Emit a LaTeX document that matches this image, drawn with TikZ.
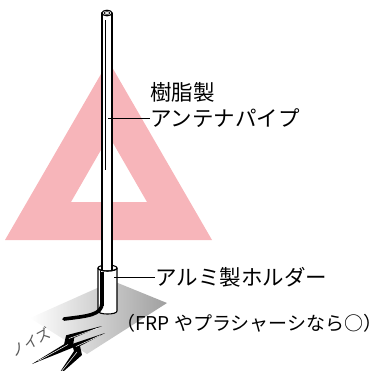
\documentclass[tikz,border=0pt]{standalone}
\usepackage{fontspec}
\setmainfont{Noto Sans CJK JP}
\definecolor{warnpink}{RGB}{247,181,186}

\begin{document}
\begin{tikzpicture}[
    x=1pt, y=-1pt,
    font=\fontsize{21.5}{26}\selectfont,
    callout/.style={anchor=west, inner sep=0pt},
    note/.style={anchor=west, inner sep=0pt, font=\fontsize{19}{23}\selectfont},
    noise/.style={inner sep=0pt, rotate=28, text=gray!70!black, font=\fontsize{14.5}{16}\selectfont},
    leader/.style={line width=0.8pt},
    body/.style={draw=black, fill=white, line width=1.1pt, line join=round},
    cable/.style={line width=3.6pt, line cap=round},
    bolt/.style={fill=black},
    glint/.style={white, line width=0.5pt}
]

    \useasboundingbox (0,0) rectangle (377,370);

    % Warning triangle behind the pipe
    \fill [warnpink, even odd rule]
        (5,240) -- (108.5,61) -- (212,240) -- cycle
        (71,202) -- (109,136) -- (147,202) -- cycle;

    % Ground shadow under the holder
    \shade [left color=white, right color=gray!75]
        (30,318) -- (113,281) -- (167,303) -- (87,354) -- cycle;

    % Noise bolts
    \fill [bolt] (102,326) -- (66.1,335.3) -- (64.1,344.2) -- (32,364)
        -- (72.8,347.6) -- (74.2,337.7) -- cycle;
    \fill [bolt] (105,333) -- (72,344) -- (74,351) -- (56,378)
        -- (82,355) -- (80,346) -- cycle;
    \draw [glint] (98,328) -- (69,338.5);
    \draw [glint] (68,344.5) -- (38,361);
    \draw [glint] (100,335.5) -- (76,346.5);
    \draw [glint] (77,352) -- (61,372);

    % Holder body
    \path [body] (98,268) -- (98,311) .. controls (98,315) and (117,315) .. (117,311) -- (117,268) -- cycle;
    \draw [body] (107.5,268) ellipse [x radius=9.5, y radius=3];

    % Antenna pipe
    \path [body] (102,270) -- (102,13) -- (112,13) -- (112,270);
    \draw [body] (107,13) ellipse [x radius=5, y radius=2.8];
    \draw [line width=0.6pt] (107,13) ellipse [x radius=2.8, y radius=1.4];
    \draw [line width=0.5pt] (105.5,20) -- (105.5,170);

    % Front rim of the holder
    \draw [line width=1.1pt] (98,268) .. controls (98,272) and (117,272) .. (117,268);

    % Slot down the holder side, cable running up it
    \draw [line width=0.6pt] (100.5,271) -- (100.5,309);
    \draw [line width=0.6pt] (103.5,272) -- (103.5,306);
    \draw [cable] (64,319) .. controls (88,316) and (102,315) .. (102,303) -- (102,292);
    \draw [line width=1.2pt] (102,292) -- (102,272);

    % Labels
    \node (resin) [callout] at (150,92) {樹脂製};
    \node (pipe_name) [callout] at (150,118) {アンテナパイプ};
    \node (holder_name) [callout] at (155,277) {アルミ製ホルダー};
    \node (frp_note) [note] at (116,323) {（FRP やプラシャーシなら○）\kern-0.45em};
    \node (noise_tag) [noise] at (31,342) {ノイズ};

    % Leader lines
    \coordinate (pipe_tap) at (108,118);
    \coordinate (holder_tap) at (114,277);
    \draw [leader] (pipe_tap) -- (pipe_name.west);
    \draw [leader] (holder_tap) -- (holder_name.west);

\end{tikzpicture}
\end{document}
